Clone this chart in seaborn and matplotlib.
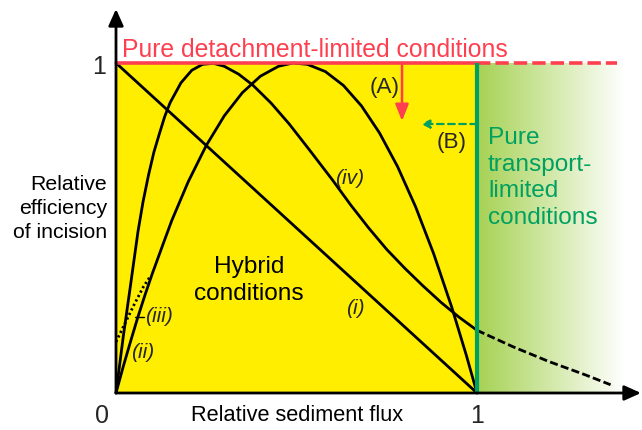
import numpy as np
import pandas as pd
import matplotlib
matplotlib.use("Agg")
import matplotlib.pyplot as plt
import seaborn as sns

# ---------------- data ----------------
# (i) linear decline
x_i = [0.0, 1.0]
y_i = [1.0, 0.0]

# (ii) parabolic "tools-and-cover" curve
x_ii = [0, 0.02, 0.04, 0.06, 0.08, 0.1, 0.13, 0.155, 0.2, 0.25, 0.3, 0.35, 0.4,
        0.45, 0.49, 0.53, 0.58, 0.63, 0.68, 0.73, 0.78, 0.83, 0.88, 0.93, 0.97, 1.0]
y_ii = [0, 0.08, 0.155, 0.228, 0.296, 0.36, 0.45, 0.524, 0.64, 0.75, 0.84, 0.91, 0.96,
        0.99, 1.0, 0.996, 0.974, 0.932, 0.87, 0.788, 0.686, 0.564, 0.422, 0.26, 0.116, 0.0]

# (iii) dotted start with non-zero intercept
x_iii = [0.0, 0.025, 0.048, 0.076, 0.094]
y_iii = [0.155, 0.211, 0.263, 0.322, 0.352]

# (iv) early-peaking curve
x_iv = [0, 0.01, 0.02, 0.04, 0.061, 0.075, 0.09, 0.105, 0.12, 0.135, 0.15, 0.18,
        0.21, 0.24, 0.27, 0.30, 0.34, 0.38, 0.43, 0.48, 0.537, 0.6, 0.65, 0.7,
        0.75, 0.8, 0.85, 0.9, 0.95, 1.0]
y_iv = [0, 0.085, 0.17, 0.325, 0.49, 0.58, 0.66, 0.73, 0.785, 0.838, 0.88, 0.94,
        0.978, 0.996, 0.999, 0.99, 0.966, 0.932, 0.878, 0.815, 0.735, 0.645, 0.57, 0.50,
        0.435, 0.378, 0.325, 0.275, 0.23, 0.19]

# (iv) continuation beyond transport-limited threshold (dashed)
x_tail = [1.0, 1.1, 1.2, 1.3, 1.37]
y_tail = [0.19, 0.14, 0.095, 0.055, 0.025]

tick_labels = {"x0": "0", "x1": "1", "y1": "1"}

# ---------------- styling ----------------
sns.set_theme(style="white")
plt.rcParams["font.family"] = ["Liberation Sans", "DejaVu Sans"]

RED = "#fd3f4f"
GREEN = "#00a060"
YELLOW = "#ffee00"
GRAD = np.array([166, 210, 84]) / 255.0

W, H = 642, 430
fig = plt.figure(figsize=(W / 100, H / 100), dpi=100)
ax = fig.add_axes([0, 0, 1, 1])
ax.set_axis_off()

# pixel mapping: origin at px (116, 393), x=1 at px 477, y=1 at px 63
X0, XS, Y0, YS = 116.0, 361.0, 393.0, 330.0
ax.set_xlim((0 - X0) / XS, (W - X0) / XS)
ax.set_ylim((Y0 - H) / YS, (Y0 - 0) / YS)

def px(xp):
    return (xp - X0) / XS

def py(yp):
    return (Y0 - yp) / YS

# green gradient (transport-limited region)
n = 256
t = np.linspace(0, 1, n)[None, :, None]
grad = GRAD[None, None, :] * (1 - t) + np.ones(3)[None, None, :] * t
ax.imshow(grad, extent=[1.0, px(625), 0, 1], aspect="auto", zorder=0,
          interpolation="bilinear")

# yellow hybrid region
ax.fill_between([0, 1], [0, 0], [1, 1], color=YELLOW, lw=0, zorder=1)

# curves
kw = dict(estimator=None, sort=False, color="black", lw=2.0, ax=ax, legend=False)
sns.lineplot(x=x_i, y=y_i, zorder=3, **kw)
sns.lineplot(x=x_ii, y=y_ii, zorder=3, **kw)
sns.lineplot(x=x_iv, y=y_iv, zorder=3, **kw)
l_tail = sns.lineplot(x=x_tail, y=y_tail, zorder=3, **kw).lines[-1]
l_tail.set_linestyle((0, (2.9, 1.2)))
l_iii = sns.lineplot(x=x_iii, y=y_iii, zorder=3, **kw).lines[-1]
l_iii.set_linestyle((0, (0.8, 1.0)))
# small leader near (iii)
ax.plot([px(135), px(144)], [py(317), py(317)], color="black", lw=1.0, zorder=3)

# red detachment-limited line
ax.plot([0, 1], [1, 1], color=RED, lw=2.6, zorder=4, solid_capstyle="butt")
ax.plot([1, px(617)], [1, 1], color=RED, lw=2.6, zorder=4,
        linestyle=(0, (3.7, 1.4)))

# green transport-limited line
ax.plot([1, 1], [0, 1], color=GREEN, lw=3.0, zorder=4, solid_capstyle="butt")

# arrows (A) and (B)
ax.annotate("", xy=(px(402), py(121)), xytext=(px(402), 1.0),
            arrowprops=dict(arrowstyle="-|>,head_length=10,head_width=4",
                            mutation_scale=1, color=RED, lw=1.8,
                            shrinkA=0, shrinkB=0), zorder=5)
ax.annotate("", xy=(px(421), py(124)), xytext=(1.0, py(124)),
            arrowprops=dict(arrowstyle="-|>,head_length=5,head_width=2.5",
                            mutation_scale=1, color=GREEN, lw=1.6,
                            linestyle=(0, (3, 2)),
                            shrinkA=0, shrinkB=0), zorder=5)

# axes with arrow heads
ax.annotate("", xy=(0, py(9)), xytext=(0, 0),
            arrowprops=dict(arrowstyle="-|>,head_length=10,head_width=4.5",
                            mutation_scale=1, color="black", lw=2.0,
                            shrinkA=0, shrinkB=0), zorder=6)
ax.annotate("", xy=(px(641), 0), xytext=(0, 0),
            arrowprops=dict(arrowstyle="-|>,head_length=10,head_width=4.5",
                            mutation_scale=1, color="black", lw=2.0,
                            shrinkA=0, shrinkB=0), zorder=6)

# ---------------- text ----------------
ax.text(px(122), py(57), "Pure detachment-limited conditions", color=RED,
        fontsize=17.8, ha="left", va="baseline", zorder=7)

for s, yb in zip(["Pure", "transport-", "limited", "conditions"], [144, 170.5, 197, 223.5]):
    ax.text(px(488), py(yb), s, color=GREEN, fontsize=17.6, ha="left",
            va="baseline", zorder=7)

for s, yb in zip(["Hybrid", "conditions"], [273, 300.5]):
    ax.text(px(249), py(yb), s, color="black", fontsize=17.6, ha="center",
            va="baseline", zorder=7)

for s, yb in zip(["Relative", "efficiency", "of incision"], [189.5, 214, 238.5]):
    ax.text(px(107), py(yb), s, color="black", fontsize=15.3, ha="right",
            va="baseline", zorder=7)

ax.text(px(297.5), py(421), "Relative sediment flux", color="black",
        fontsize=15.7, ha="center", va="baseline", zorder=7)

ax.text(px(99), py(74), tick_labels["y1"], fontsize=18, ha="center", va="baseline")
ax.text(px(102), py(423), tick_labels["x0"], fontsize=18, ha="center", va="baseline")
ax.text(px(477), py(423), tick_labels["x1"], fontsize=18, ha="center", va="baseline")

ax.text(px(385), py(93), "(A)", fontsize=16.2, ha="center", va="baseline", zorder=7)
ax.text(px(452), py(148), "(B)", fontsize=16.2, ha="center", va="baseline", zorder=7)

it = dict(fontsize=15, style="italic", ha="center", va="center", zorder=7)
ax.text(px(350), py(178), "(iv)", **it)
ax.text(px(355), py(308), "(i)", **it)
ax.text(px(158.5), py(317), "(iii)", **it)
ax.text(px(143), py(353), "(ii)", **it)

fig.savefig("out.png", dpi=100)
